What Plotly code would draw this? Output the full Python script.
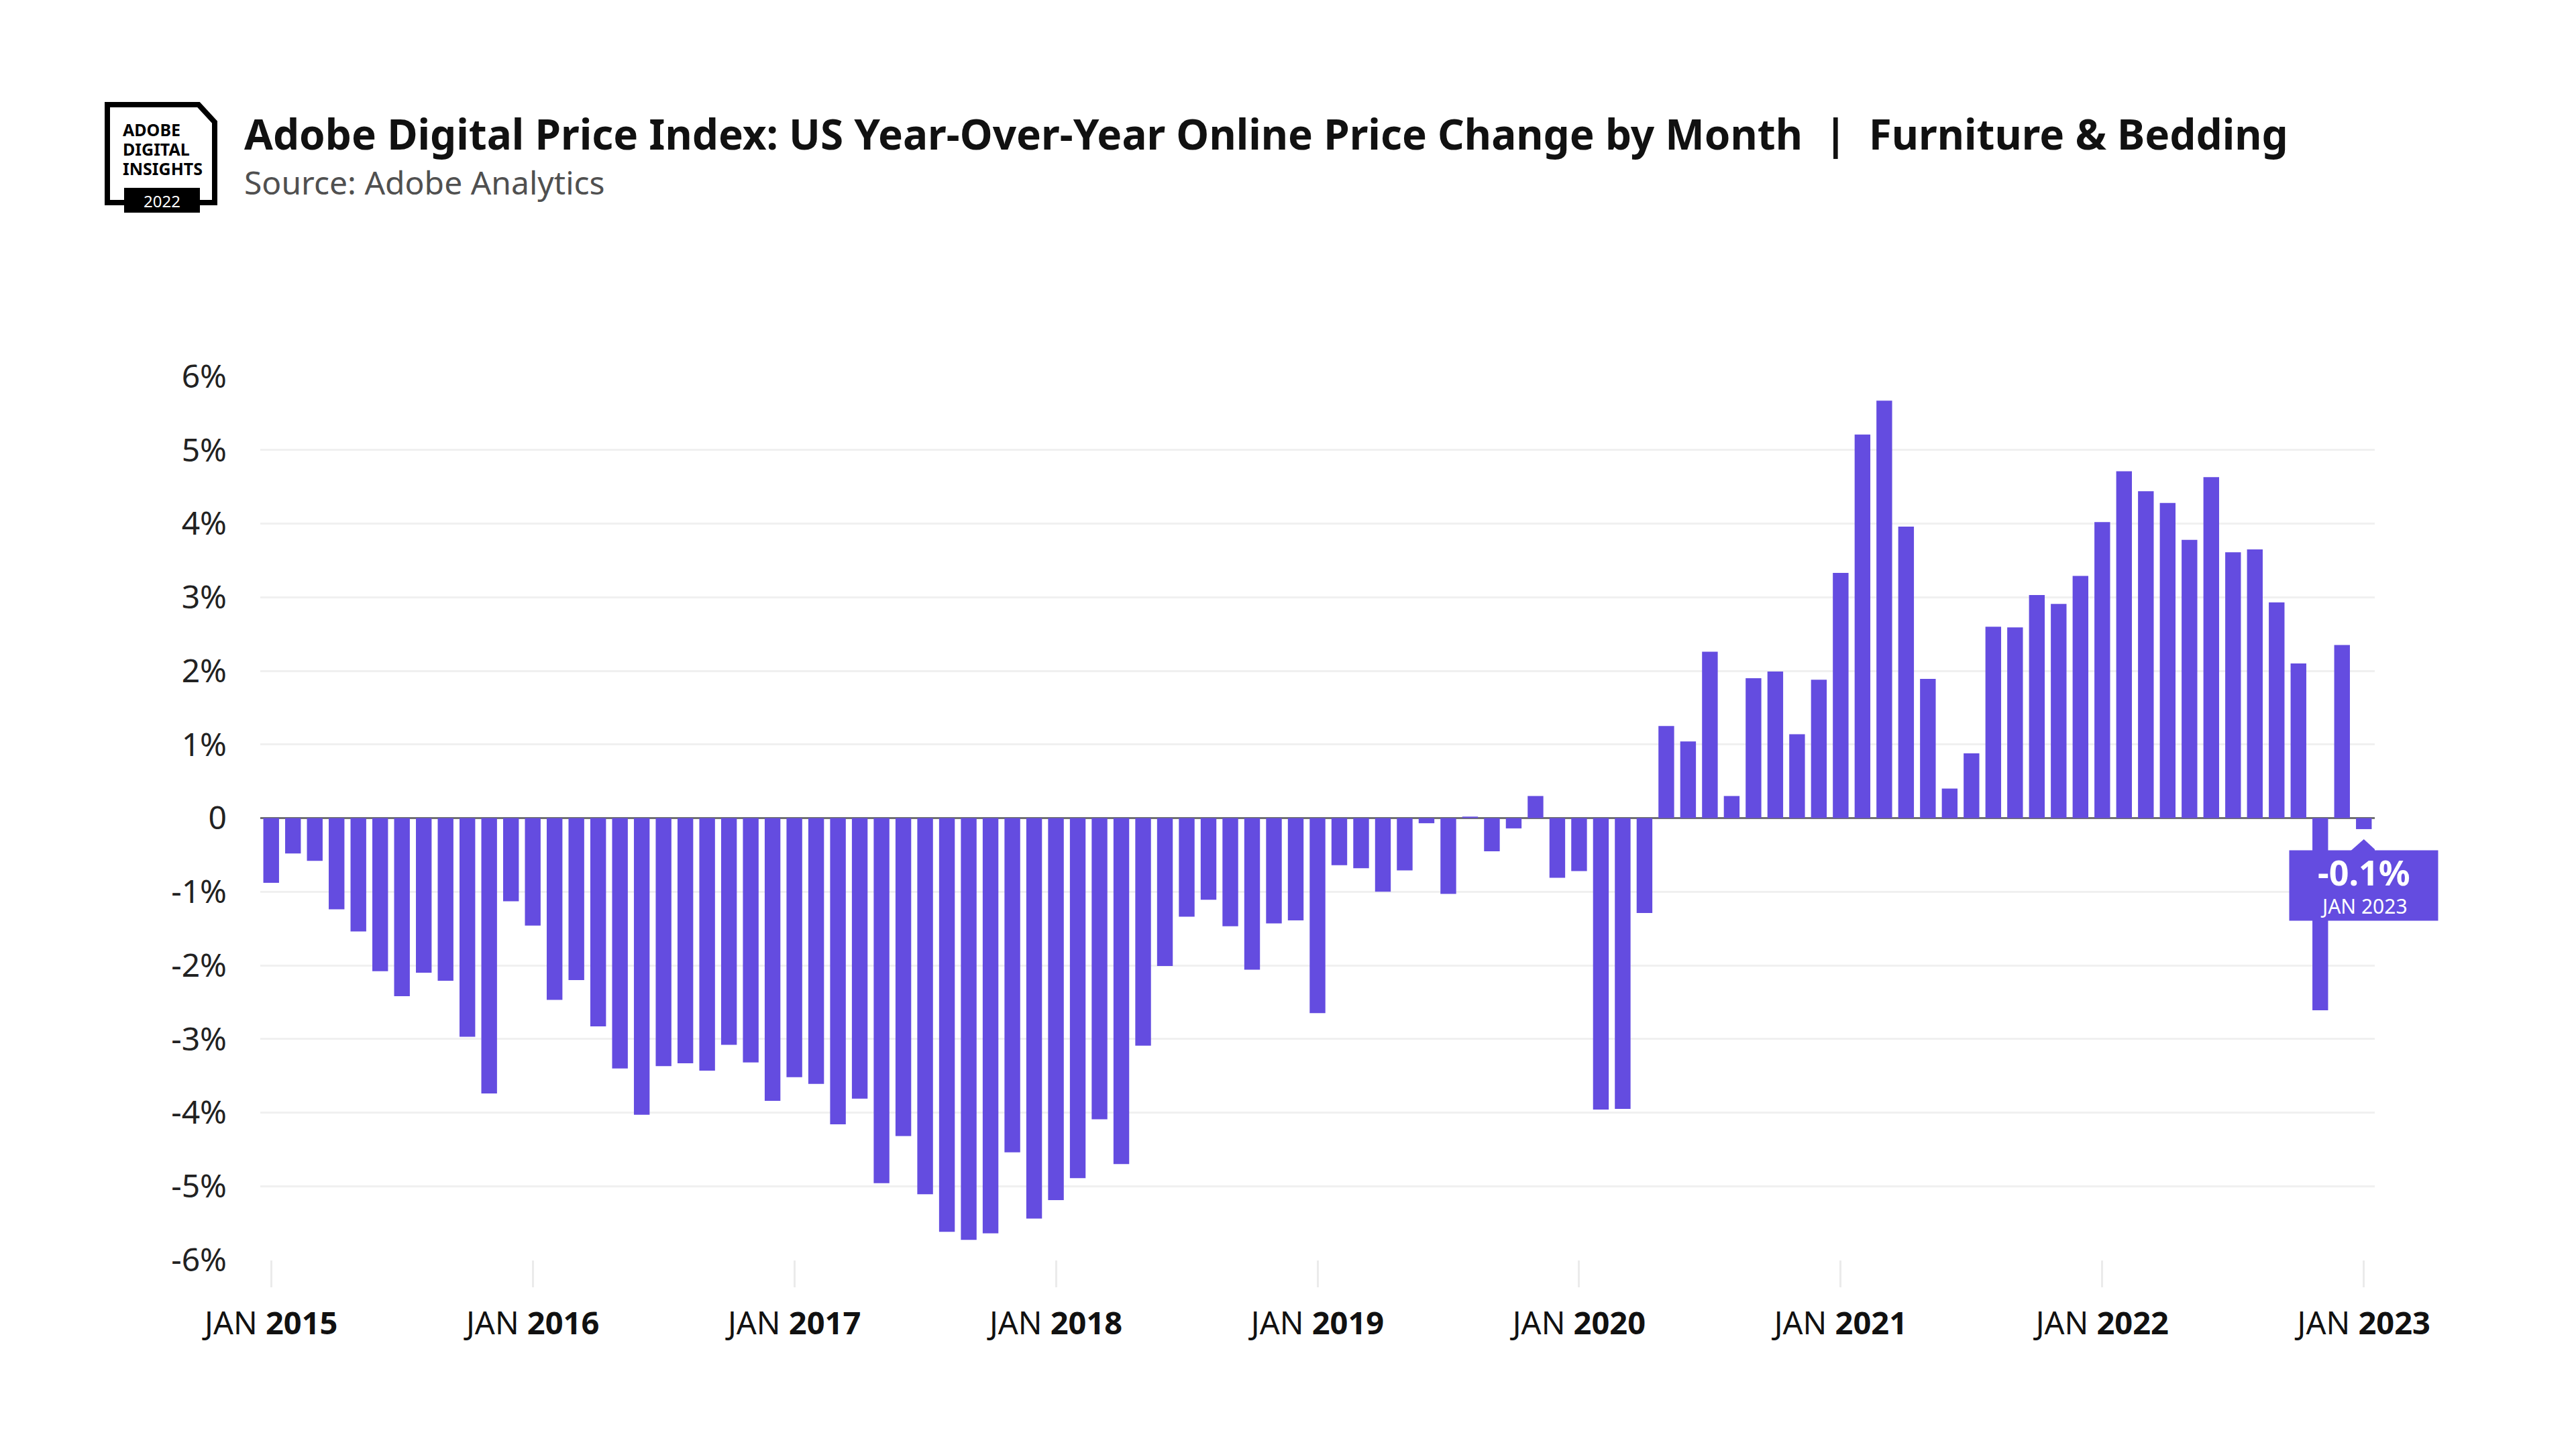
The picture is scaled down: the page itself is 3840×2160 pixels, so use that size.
import plotly.graph_objects as go

# ---------------- data ----------------
years = list(range(2015, 2023))
months = [f"{y}-{m:02d}" for y in years for m in range(1, 13)] + ["2023-01"]

yoy_2015 = [-0.88, -0.48, -0.58, -1.24, -1.54, -2.08, -2.42, -2.10, -2.21, -2.97, -3.74, -1.13]
yoy_2016 = [-1.46, -2.47, -2.20, -2.83, -3.40, -4.03, -3.37, -3.33, -3.43, -3.08, -3.32, -3.84]
yoy_2017 = [-3.52, -3.61, -4.16, -3.81, -4.96, -4.32, -5.11, -5.62, -5.73, -5.64, -4.54, -5.44]
yoy_2018 = [-5.19, -4.89, -4.09, -4.70, -3.09, -2.01, -1.34, -1.11, -1.47, -2.06, -1.43, -1.39]
yoy_2019 = [-2.65, -0.64, -0.68, -1.00, -0.71, -0.07, -1.03, 0.02, -0.45, -0.14, 0.30, -0.81]
yoy_2020 = [-0.72, -3.96, -3.95, -1.29, 1.25, 1.04, 2.26, 0.30, 1.90, 1.99, 1.14, 1.88]
yoy_2021 = [3.33, 5.21, 5.67, 3.96, 1.89, 0.40, 0.88, 2.60, 2.59, 3.03, 2.91, 3.29]
yoy_2022 = [4.02, 4.71, 4.44, 4.28, 3.78, 4.63, 3.61, 3.65, 2.93, 2.10, -2.61, 2.35]
yoy_2023 = [-0.15]
yoy = yoy_2015 + yoy_2016 + yoy_2017 + yoy_2018 + yoy_2019 + yoy_2020 + yoy_2021 + yoy_2022 + yoy_2023

x_tick_vals = [f"{y}-01" for y in years + [2023]]
x_tick_text = [f"JAN <b>{y}</b>" for y in years + [2023]]
y_tick_vals = [6, 5, 4, 3, 2, 1, 0, -1, -2, -3, -4, -5, -6]
y_tick_text = ["6%", "5%", "4%", "3%", "2%", "1%", "0", "-1%", "-2%", "-3%", "-4%", "-5%", "-6%"]

callout_value = "-0.1%"
callout_label = "JAN 2023"

# ---------------- style ----------------
PURPLE = "#644CE0"
FONT = "Noto Sans"
W, H = 3840, 2160
L, R, T, B = 388, 3540, 561, 1878  # plot area in pixels


def px(x):
    return (x - L) / (R - L)


def py(y):
    return (B - y) / (B - T)


fig = go.Figure()
fig.add_trace(go.Bar(
    x=months, y=yoy,
    marker=dict(color=PURPLE, line=dict(width=0)),
    hoverinfo="x+y",
))

shapes = []
annotations = []

# ---- logo ----
logo_path = (f"M{px(160)},{py(156)} L{px(296)},{py(156)} L{px(320)},{py(182)} "
             f"L{px(320)},{py(302)} L{px(160)},{py(302)} Z")
shapes.append(dict(type="path", xref="paper", yref="paper", path=logo_path,
                   line=dict(color="black", width=8), fillcolor="rgba(0,0,0,0)", layer="above"))
shapes.append(dict(type="rect", xref="paper", yref="paper",
                   x0=px(185), x1=px(298), y0=py(317), y1=py(280),
                   fillcolor="black", line=dict(width=0), layer="above"))
for txt, yy in [("ADOBE", 193), ("DIGITAL", 222), ("INSIGHTS", 251)]:
    annotations.append(dict(xref="paper", yref="paper", x=px(181), y=py(yy), text=f"<b>{txt}</b>",
                            showarrow=False, xanchor="left", yanchor="middle",
                            font=dict(family=FONT, size=25, color="black")))
annotations.append(dict(xref="paper", yref="paper", x=px(241), y=py(299), text="2022",
                        showarrow=False, xanchor="center", yanchor="middle",
                        font=dict(family=FONT, size=24, color="white")))

# ---- title ----
annotations.append(dict(
    xref="paper", yref="paper", x=px(362), y=py(199), xanchor="left", yanchor="middle",
    text="<b>Adobe Digital Price Index: US Year-Over-Year Online Price Change by Month\u00a0\u00a0|\u00a0\u00a0Furniture &amp; Bedding</b>",
    showarrow=False, font=dict(family=FONT, size=62, color="#111111")))
annotations.append(dict(
    xref="paper", yref="paper", x=px(362), y=py(272), xanchor="left", yanchor="middle",
    text="Source: Adobe Analytics", showarrow=False,
    font=dict(family=FONT, size=48, color="#505050")))

# ---- callout for latest value ----
last_x, last_y = months[-1], yoy[-1]
annotations.append(dict(x=last_x, y=last_y, xref="x", yref="y", text=" ", showarrow=False,
                        width=219, height=102, bgcolor=PURPLE, yshift=-84,
                        font=dict(family=FONT, size=20, color="white")))
annotations.append(dict(x=last_x, y=last_y, xref="x", yref="y", text=f"<b>{callout_value}</b>",
                        showarrow=False, yshift=-64,
                        font=dict(family=FONT, size=52, color="white")))
annotations.append(dict(x=last_x, y=last_y, xref="x", yref="y", text=callout_label,
                        showarrow=False, yshift=-115,
                        font=dict(family=FONT, size=30, color="white")))
shapes.append(dict(type="path", xref="x", yref="y", xsizemode="pixel", ysizemode="pixel",
                   xanchor=len(months) - 1, yanchor=last_y,
                   path="M-26,-38 L0,-15 L25,-38 Z", fillcolor=PURPLE,
                   line=dict(width=0), layer="above"))

fig.update_layout(
    width=W, height=H,
    margin=dict(l=L, r=W - R, t=T, b=H - B, pad=0),
    paper_bgcolor="white", plot_bgcolor="white",
    bargap=0.28,
    showlegend=False,
    shapes=shapes,
    annotations=annotations,
    font=dict(family=FONT, color="#222222"),
    xaxis=dict(
        type="category", categoryorder="array", categoryarray=months,
        range=[-0.5, len(months) - 0.5],
        tickmode="array", tickvals=x_tick_vals, ticktext=x_tick_text,
        ticks="outside", ticklen=40, tickwidth=3, tickcolor="#ebebeb",
        showgrid=False, showline=False, zeroline=False,
        tickfont=dict(family=FONT, size=47, color="#111111"),
        ticklabelstandoff=14,
    ),
    yaxis=dict(
        range=[-6, 6],
        tickmode="array", tickvals=y_tick_vals, ticktext=y_tick_text,
        showgrid=True, gridcolor="#f0f0f0", gridwidth=3,
        zeroline=True, zerolinecolor="#707070", zerolinewidth=3,
        showline=False, ticks="",
        tickfont=dict(family=FONT, size=48, color="#222222"),
        ticklabelstandoff=49,
    ),
)

fig.write_html("out.html", config={"displayModeBar": False},
               post_script="document.body.style.margin='0';")
